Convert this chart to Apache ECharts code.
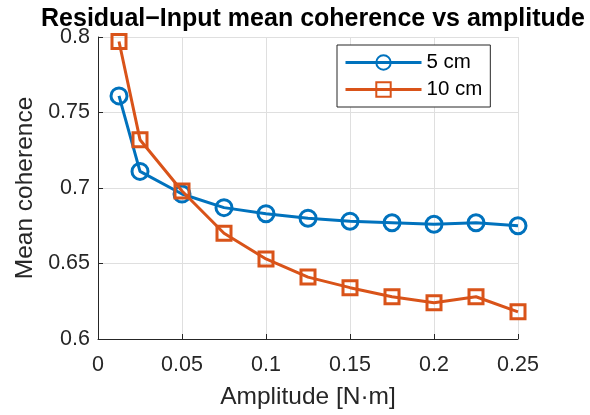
<!DOCTYPE html>
<html>
<head>
<meta charset="utf-8">
<script src="https://cdn.jsdelivr.net/npm/echarts@6/dist/echarts.min.js"></script>
<style>
  html, body { margin: 0; padding: 0; background: #fff; }
  #chart { width: 590px; height: 415px; }
</style>
</head>
<body>
<div id="chart"></div>
<script>
// Forcing amplitudes [N·m]
const amplitudes = [0.0125, 0.025, 0.05, 0.075, 0.1, 0.125, 0.15, 0.175, 0.2, 0.225, 0.25];
// Mean residual–input coherence for each sensor spacing
const coherence5cm  = [0.761, 0.711, 0.696, 0.687, 0.683, 0.680, 0.678, 0.677, 0.676, 0.677, 0.675];
const coherence10cm = [0.797, 0.732, 0.698, 0.670, 0.653, 0.641, 0.634, 0.628, 0.624, 0.628, 0.618];
const seriesNames = ['5 cm', '10 cm'];
const xTicks = { min: 0, max: 0.25, step: 0.05 };
const yTicks = { min: 0.6, max: 0.8, step: 0.05 };

const FONT = "'Liberation Sans', Arial, Helvetica, sans-serif";
const AXIS_COLOR = '#262626';
const GRID_COLOR = '#dfdfdf';
const BLUE = '#0072BD';
const ORANGE = '#D95319';

const pairs = (xs, ys) => xs.map((x, i) => [x, ys[i]]);
const fmt = v => String(+v.toFixed(4));

const chart = echarts.init(document.getElementById('chart'), null, { renderer: 'canvas' });

chart.setOption({
  animation: false,
  backgroundColor: '#ffffff',
  textStyle: { fontFamily: FONT },
  title: {
    text: 'Residual\u2212Input mean coherence vs amplitude',
    left: 308,
    textAlign: 'center',
    top: 2,
    textStyle: { fontFamily: FONT, fontSize: 25, fontWeight: 'bold', color: '#000' }
  },
  grid: { left: 98, right: 72, top: 37, bottom: 75, containLabel: false },
  legend: {
    orient: 'vertical',
    left: 337,
    top: 45,
    padding: [7, 8, 7, 7],
    itemWidth: 76,
    itemHeight: 18,
    itemGap: 6,
    backgroundColor: '#ffffff',
    borderColor: AXIS_COLOR,
    borderWidth: 1,
    lineStyle: { width: 3 },
    textStyle: { fontFamily: FONT, fontSize: 20.5, color: '#000', lineHeight: 20 },
    data: seriesNames
  },
  xAxis: {
    type: 'value',
    min: xTicks.min,
    max: xTicks.max,
    interval: xTicks.step,
    name: 'Amplitude [N\u00b7m]',
    nameLocation: 'middle',
    nameGap: 46,
    nameTextStyle: { fontFamily: FONT, fontSize: 24.5, color: AXIS_COLOR },
    axisLine: { show: true, onZero: false, lineStyle: { color: AXIS_COLOR, width: 1 } },
    axisTick: { show: true, inside: true, length: 5, lineStyle: { color: AXIS_COLOR } },
    axisLabel: { fontFamily: FONT, fontSize: 21.5, color: AXIS_COLOR, margin: 15, formatter: fmt },
    splitLine: { show: true, lineStyle: { color: GRID_COLOR, width: 1 } }
  },
  yAxis: {
    type: 'value',
    min: yTicks.min,
    max: yTicks.max,
    interval: yTicks.step,
    name: 'Mean coherence',
    nameLocation: 'middle',
    nameGap: 58,
    nameTextStyle: { fontFamily: FONT, fontSize: 24.5, color: AXIS_COLOR },
    axisLine: { show: true, onZero: false, lineStyle: { color: AXIS_COLOR, width: 1 } },
    axisTick: { show: true, inside: true, length: 5, lineStyle: { color: AXIS_COLOR } },
    axisLabel: { fontFamily: FONT, fontSize: 21.5, color: AXIS_COLOR, margin: 8, formatter: fmt },
    splitLine: { show: true, lineStyle: { color: GRID_COLOR, width: 1 } }
  },
  series: [
    {
      name: seriesNames[0],
      type: 'line',
      data: pairs(amplitudes, coherence5cm),
      symbol: 'circle',
      symbolSize: 16,
      showAllSymbol: true,
      lineStyle: { color: BLUE, width: 3 },
      itemStyle: { color: 'rgba(255,255,255,0)', borderColor: BLUE, borderWidth: 3 },
      emphasis: { disabled: true },
      z: 3
    },
    {
      name: seriesNames[1],
      type: 'line',
      data: pairs(amplitudes, coherence10cm),
      symbol: 'rect',
      symbolSize: 14,
      showAllSymbol: true,
      lineStyle: { color: ORANGE, width: 3 },
      itemStyle: { color: 'rgba(255,255,255,0)', borderColor: ORANGE, borderWidth: 3 },
      emphasis: { disabled: true },
      z: 4
    }
  ]
});
</script>
</body>
</html>
